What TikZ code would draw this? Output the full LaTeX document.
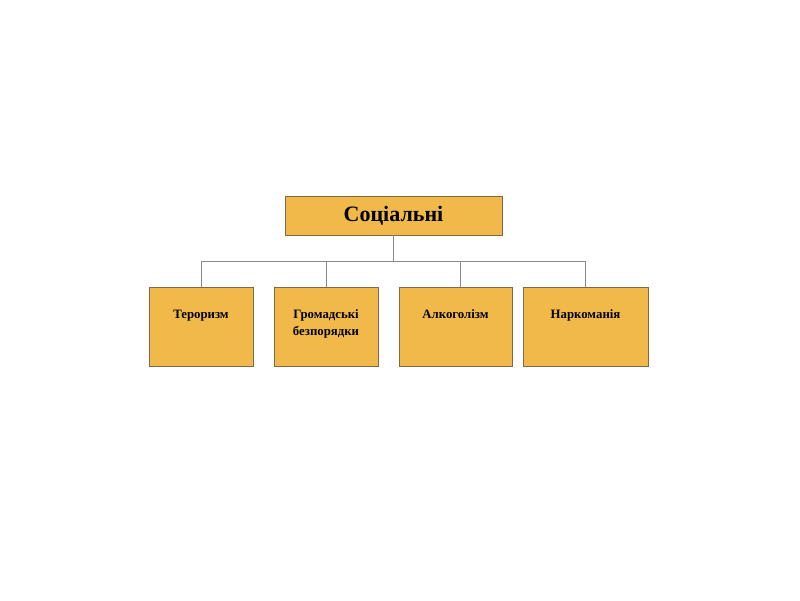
\documentclass[tikz,border=0pt]{standalone}
\usepackage{fontspec}
\setmainfont{Liberation Serif}
\begin{document}
\begin{tikzpicture}[x=1pt,y=-1pt,
  box/.style={draw=boxedge,fill=boxfill,line width=0.8pt,inner sep=0pt},
  conn/.style={draw=linegray,line width=0.9pt},
  lbl/.style={font=\bfseries\fontsize{12.8}{17}\selectfont,align=center,anchor=north,inner sep=0pt}]
\definecolor{boxfill}{HTML}{F0B94A}
\definecolor{boxedge}{HTML}{7A6A50}
\definecolor{linegray}{HTML}{8A8A8A}
\useasboundingbox (0,0) rectangle (800,600);
\node[box,minimum width=217pt,minimum height=39pt] (top) at (393.5,215.5) {\bfseries\fontsize{22}{24}\selectfont Соціальні};
\node[box,minimum width=104pt,minimum height=79pt] (b1) at (201,326.5) {};
\node[box,minimum width=104pt,minimum height=79pt] (b2) at (326,326.5) {};
\node[box,minimum width=113pt,minimum height=79pt] (b3) at (455.5,326.5) {};
\node[box,minimum width=125pt,minimum height=79pt] (b4) at (585.5,326.5) {};
\node[lbl] (t1) at (201,309.5) {Тероризм};
\node[lbl] (t2) at (326,309.5) {Громадські\\безпорядки};
\node[lbl] (t3) at (455.5,309.5) {Алкоголізм};
\node[lbl] (t4) at (585.5,309.5) {Наркоманія};
\coordinate (j) at (393.5,261);
\coordinate (l) at (201,261);
\coordinate (r) at (586,261);
\draw[conn] (top.south) -- (j);
\draw[conn] (l) -- (r);
\draw[conn] (201,261) -- (b1.north);
\draw[conn] (326,261) -- (b2.north);
\draw[conn] (460,261) -- (460,287);
\draw[conn] (585.5,261) -- (b4.north);
\end{tikzpicture}
\end{document}
